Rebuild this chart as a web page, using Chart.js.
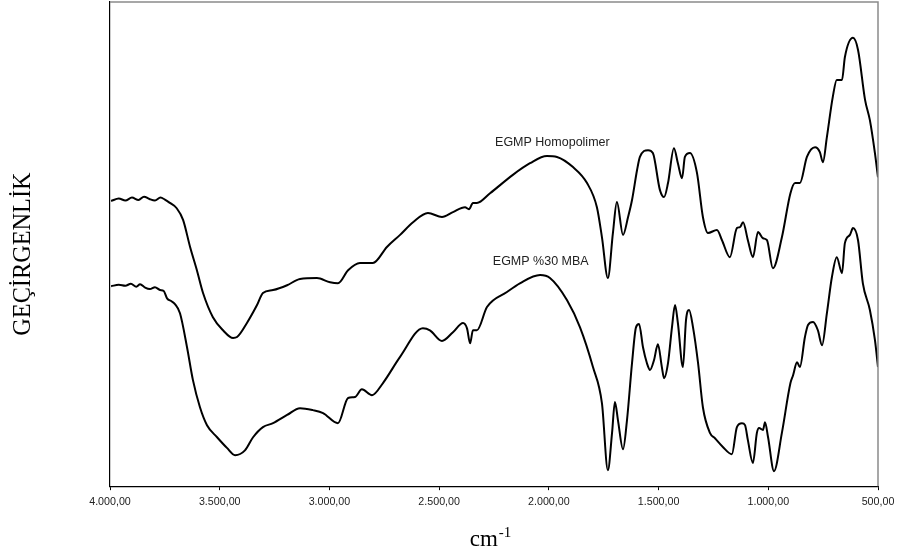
<!DOCTYPE html>
<html>
<head>
<meta charset="utf-8">
<script src="https://cdn.jsdelivr.net/npm/chart.js@4.4.1/dist/chart.umd.min.js"></script>
<style>
  body { margin: 0; background: #fff; }
  canvas { display: block; }
</style>
</head>
<body>
<canvas id="irChart" width="901" height="558"></canvas>
<script>
// x ticks (cm-1)
const xTicks = [4000, 3500, 3000, 2500, 2000, 1500, 1000, 500];

// EGMP Homopolimer
const homoWave = [3995, 3960, 3930, 3900, 3870, 3845, 3820, 3795, 3770, 3750, 3727, 3696, 3667, 3635, 3604, 3576,
    3531, 3485, 3439, 3421, 3376, 3330, 3303, 3257, 3193, 3134, 3057, 2997, 2961, 2915, 2861, 2802, 2738, 2678,
    2619, 2551, 2487, 2437, 2382, 2364, 2346, 2328, 2268, 2164, 2086, 2009, 1963, 1890, 1826, 1781, 1758, 1731,
    1708, 1690, 1662, 1639, 1621, 1598, 1585, 1548, 1526, 1494, 1475, 1457, 1430, 1412, 1393, 1380, 1357, 1325,
    1298, 1275, 1234, 1211, 1175, 1143, 1129, 1115, 1093, 1070, 1047, 1024, 1006, 979, 938, 899, 878, 856, 824,
    787, 765, 751, 733, 706, 688, 664, 651, 614, 591, 559, 537, 514, 500];
const homoT = [58.9, 59.4, 59.0, 59.6, 59.1, 59.8, 59.3, 59.0, 59.6, 59.2, 58.5, 57.4, 55.0, 49.4, 44.6, 39.9,
    34.9, 32.2, 30.6, 30.8, 33.7, 37.4, 39.9, 40.5, 41.5, 42.8, 43.0, 42.1, 41.9, 44.6, 46.1, 46.1, 49.4, 51.9,
    54.5, 56.4, 55.6, 56.6, 57.6, 57.2, 58.5, 58.5, 60.5, 64.3, 66.7, 68.2, 68.0, 65.9, 62.6, 57.6, 51.4, 43.0,
    52.3, 58.7, 51.9, 55.6, 59.1, 65.3, 68.0, 69.4, 68.8, 61.2, 59.7, 62.6, 69.8, 66.7, 63.6, 68.0, 68.8, 64.7,
    55.6, 52.3, 52.9, 50.8, 47.3, 53.3, 53.5, 54.5, 50.8, 47.3, 52.5, 51.2, 50.8, 45.0, 51.4, 60.5, 62.6, 62.6, 68.0,
    70.0, 69.0, 66.9, 72.1, 80.4, 83.9, 83.9, 88.6, 92.6, 90.1, 79.8, 75.6, 68.8, 63.8];

// EGMP %30 MBA
const mbaWave = [3995, 3960, 3930, 3905, 3880, 3863, 3840, 3818, 3795, 3772, 3755, 3740, 3720, 3704, 3681, 3649,
    3622, 3590, 3558, 3512, 3467, 3430, 3385, 3348, 3303, 3257, 3193, 3134, 3075, 3029, 2961, 2915, 2884, 2852,
    2806, 2756, 2678, 2574, 2542, 2487, 2437, 2391, 2373, 2359, 2346, 2328, 2282, 2191, 2132, 2040, 1995, 1917,
    1858, 1799, 1758, 1731, 1712, 1699, 1685, 1662, 1644, 1621, 1603, 1589, 1571, 1553, 1539, 1521, 1503, 1485,
    1475, 1457, 1439, 1425, 1412, 1389, 1375, 1361, 1343, 1320, 1298, 1266, 1243, 1207, 1166, 1143, 1120, 1106,
    1093, 1070, 1052, 1042, 1024, 1015, 1001, 974, 938, 899, 887, 869, 856, 833, 819, 796, 774, 755, 733, 710,
    688, 664, 651, 628, 614, 591, 569, 537, 514, 500];
const mbaT = [41.3, 41.6, 41.4, 41.8, 41.2, 41.7, 41.0, 40.7, 41.1, 40.5, 40.3, 38.8, 38.2, 37.6, 35.7, 28.7,
    21.9, 16.3, 12.6, 10.1, 7.9, 6.4, 7.4, 10.1, 12.2, 13.0, 14.7, 16.1, 15.7, 15.1, 13.0, 18.2, 18.4, 20.0,
    18.8, 21.3, 26.7, 32.6, 32.2, 30.0, 31.8, 33.7, 32.6, 29.5, 32.2, 32.2, 37.0, 40.1, 41.9, 43.6, 43.0, 38.4,
    32.8, 24.6, 17.1, 3.3, 11.0, 17.4, 13.6, 7.6, 13.6, 25.4, 32.8, 33.5, 28.7, 25.4, 24.0, 26.0, 29.3, 24.6,
    22.3, 25.4, 32.8, 37.4, 33.7, 24.6, 34.3, 36.4, 32.8, 25.4, 16.3, 11.0, 9.9, 8.1, 6.6, 12.2, 13.0, 12.6,
    9.5, 4.8, 11.0, 12.0, 11.6, 13.2, 10.1, 3.1, 11.0, 21.3, 22.9, 25.6, 24.6, 30.8, 33.3, 33.9, 32.2, 29.1, 35.7, 43.2,
    47.3, 44.0, 50.2, 51.9, 53.3, 50.8, 41.9, 36.4, 30.2, 24.6];

// series labels written on the plot
const seriesNames = ['EGMP Homopolimer', 'EGMP %30 MBA'];

function toPoints(xs, ys) {
    return xs.map((x, i) => ({ x: x, y: ys[i] }));
}

function formatTr(v) {
    const s = Math.round(v).toString().replace(/\B(?=(\d{3})+(?!\d))/g, '.');
    return s + ',00';
}

// frame, curve names and axis titles
const decorPlugin = {
    id: 'decor',
    afterDraw(chart) {
        const ctx = chart.ctx;
        const a = chart.chartArea;
        const xs = chart.scales.x;
        const ys = chart.scales.y;
        ctx.save();

        // grey top/right frame
        ctx.strokeStyle = '#8a8a8a';
        ctx.lineWidth = 1.5;
        ctx.beginPath();
        ctx.moveTo(a.left, a.top);
        ctx.lineTo(a.right, a.top);
        ctx.lineTo(a.right, a.bottom);
        ctx.stroke();

        // curve names
        ctx.fillStyle = '#222';
        ctx.font = '12.5px "Liberation Sans", Arial, sans-serif';
        ctx.textAlign = 'center';
        ctx.textBaseline = 'middle';
        ctx.fillText(seriesNames[0], xs.getPixelForValue(1984), ys.getPixelForValue(70.9));
        ctx.fillText(seriesNames[1], xs.getPixelForValue(2037), ys.getPixelForValue(46.3));

        // y title
        ctx.fillStyle = '#000';
        ctx.font = '24.3px "Liberation Serif", "Times New Roman", serif';
        ctx.translate(30, (a.top + a.bottom) / 2 + 10);
        ctx.rotate(-Math.PI / 2);
        ctx.textAlign = 'center';
        ctx.textBaseline = 'alphabetic';
        ctx.fillText('GEÇİRGENLİK', 0, 0);
        ctx.restore();

        // x title: cm^-1
        ctx.save();
        ctx.fillStyle = '#000';
        ctx.textBaseline = 'alphabetic';
        ctx.textAlign = 'left';
        ctx.font = '23px "Liberation Serif", "Times New Roman", serif';
        const w1 = ctx.measureText('cm').width;
        ctx.font = '15px "Liberation Serif", "Times New Roman", serif';
        const w2 = ctx.measureText('-1').width;
        const startX = (a.left + a.right) / 2 - (w1 + w2) / 2 - 4;
        ctx.font = '23px "Liberation Serif", "Times New Roman", serif';
        ctx.fillText('cm', startX, 546);
        ctx.font = '15px "Liberation Serif", "Times New Roman", serif';
        ctx.fillText('-1', startX + w1 + 1, 537);
        ctx.restore();
    }
};

const lineStyle = {
    borderColor: '#000',
    borderWidth: 2,
    pointRadius: 0,
    fill: false,
    cubicInterpolationMode: 'monotone',
    borderJoinStyle: 'round'
};

new Chart(document.getElementById('irChart').getContext('2d'), {
    type: 'line',
    data: {
        datasets: [
            Object.assign({ label: seriesNames[0], data: toPoints(homoWave, homoT) }, lineStyle),
            Object.assign({ label: seriesNames[1], data: toPoints(mbaWave, mbaT) }, lineStyle)
        ]
    },
    options: {
        responsive: false,
        animation: false,
        devicePixelRatio: 1,
        layout: { padding: { left: 110, right: 23, top: 2, bottom: 45 } },
        plugins: {
            legend: { display: false },
            tooltip: { enabled: false }
        },
        scales: {
            x: {
                type: 'linear',
                reverse: true,
                min: 500,
                max: 4000,
                afterBuildTicks(scale) {
                    scale.ticks = xTicks.map(v => ({ value: v }));
                },
                grid: {
                    display: true,
                    drawOnChartArea: false,
                    drawTicks: true,
                    tickLength: 4,
                    color: '#000'
                },
                border: { display: true, color: '#000', width: 1.2 },
                ticks: {
                    padding: 5,
                    maxRotation: 0,
                    autoSkip: false,
                    color: '#222',
                    font: { family: '"Liberation Sans", Arial, sans-serif', size: 10.7 },
                    callback: v => formatTr(v)
                }
            },
            y: {
                min: 0,
                max: 100,
                grid: { display: false, drawTicks: false },
                border: { display: true, color: '#000', width: 1.2 },
                ticks: { display: false }
            }
        }
    },
    plugins: [decorPlugin]
});
</script>
</body>
</html>
